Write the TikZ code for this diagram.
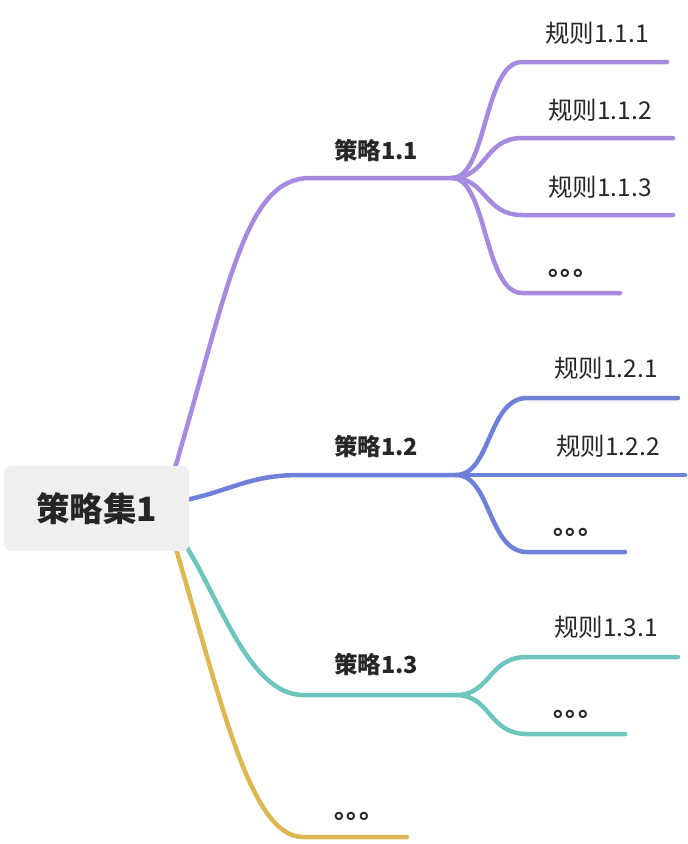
\documentclass[tikz,border=0pt]{standalone}
\usepackage{fontspec}
\setmainfont{Noto Sans CJK SC}
\usetikzlibrary{backgrounds}
\definecolor{cpur}{HTML}{A58AE0}
\definecolor{cblu}{HTML}{6F80D9}
\definecolor{ctea}{HTML}{6CC5BF}
\definecolor{cyel}{HTML}{DDB752}
\definecolor{rootfill}{HTML}{EFEFEF}
\definecolor{txt}{HTML}{262626}
\begin{document}
\begin{tikzpicture}[x=1pt,y=-1pt,
  rootbox/.style={fill=rootfill, rounded corners=7pt, minimum width=185pt, minimum height=85pt, inner sep=0pt, text=txt, font=\fontsize{33.5}{38}\selectfont\bfseries},
  strat/.style={inner sep=0pt, text=txt, font=\fontsize{23.5}{26}\selectfont\bfseries},
  rulelbl/.style={inner sep=0pt, text=txt, font=\fontsize{24.5}{28}\selectfont},
  dotlbl/.style={inner sep=0pt, text=txt, font=\fontsize{25}{28}\selectfont\bfseries\addfontfeature{RawFeature=+halt}},
  branch/.style={line width=4.5pt, line cap=round, line join=round}]
\useasboundingbox (0,0) rectangle (688,844);

% nodes
\node[rootbox] (root) at (96.5,508.5) {策略集1};
\node[strat] (s1) at (376,150) {策略1.1};
\node[strat] (s2) at (376,446) {策略1.2};
\node[strat] (s3) at (376,664) {策略1.3};
\node[dotlbl] (s4) at (353,816) {。。。};

\node[rulelbl] (r11) at (597,33) {规则1.1.1};
\node[rulelbl] (r12) at (600,110) {规则1.1.2};
\node[rulelbl] (r13) at (600,187) {规则1.1.3};
\node[dotlbl] (r14) at (567,273) {。。。};

\node[rulelbl] (r21) at (606,368) {规则1.2.1};
\node[rulelbl] (r22) at (608,446) {规则1.2.2};
\node[dotlbl] (r23) at (572,532) {。。。};

\node[rulelbl] (r31) at (606,627) {规则1.3.1};
\node[dotlbl] (r32) at (572,714) {。。。};

% coordinates
\coordinate (p0) at (175,468);
\coordinate (b0) at (186,500);
\coordinate (t0) at (186,546);
\coordinate (y0) at (176,549);
\coordinate (j1) at (452,178);
\coordinate (j2) at (456,475);
\coordinate (j3) at (456,695);
\coordinate (e4) at (407,837);
\coordinate (e11) at (667,62);
\coordinate (e12) at (673,138);
\coordinate (e13) at (673,215);
\coordinate (e14) at (620,293);
\coordinate (e21) at (678,398);
\coordinate (e22) at (685,475);
\coordinate (e23) at (625,552);
\coordinate (e31) at (678,657);
\coordinate (e32) at (625,734);

\begin{scope}[on background layer]
% main branches
\draw[branch,cpur] (p0) .. controls (229,285) and (245,178) .. (310,178) -- (j1);
\draw[branch,cblu] (b0) .. controls (232,490) and (250,475) .. (300,475) -- (j2);
\draw[branch,ctea] (t0) .. controls (220,600) and (250,695) .. (303,695) -- (j3);
\draw[branch,cyel] (y0) .. controls (221,700) and (250,837) .. (303,837) -- (e4);
% purple sub-branches
\draw[branch,cpur] (j1) .. controls (487,178) and (484,62) .. (522,62) -- (e11);
\draw[branch,cpur] (j1) .. controls (487,178) and (484,138) .. (522,138) -- (e12);
\draw[branch,cpur] (j1) .. controls (487,178) and (484,215) .. (522,215) -- (e13);
\draw[branch,cpur] (j1) .. controls (487,178) and (484,293) .. (522,293) -- (e14);
% blue sub-branches
\draw[branch,cblu] (j2) .. controls (491,475) and (488,398) .. (527,398) -- (e21);
\draw[branch,cblu] (j2) -- (e22);
\draw[branch,cblu] (j2) .. controls (491,475) and (488,552) .. (527,552) -- (e23);
% teal sub-branches
\draw[branch,ctea] (j3) .. controls (491,695) and (488,657) .. (527,657) -- (e31);
\draw[branch,ctea] (j3) .. controls (491,695) and (488,734) .. (527,734) -- (e32);
\end{scope}
\end{tikzpicture}
\end{document}
